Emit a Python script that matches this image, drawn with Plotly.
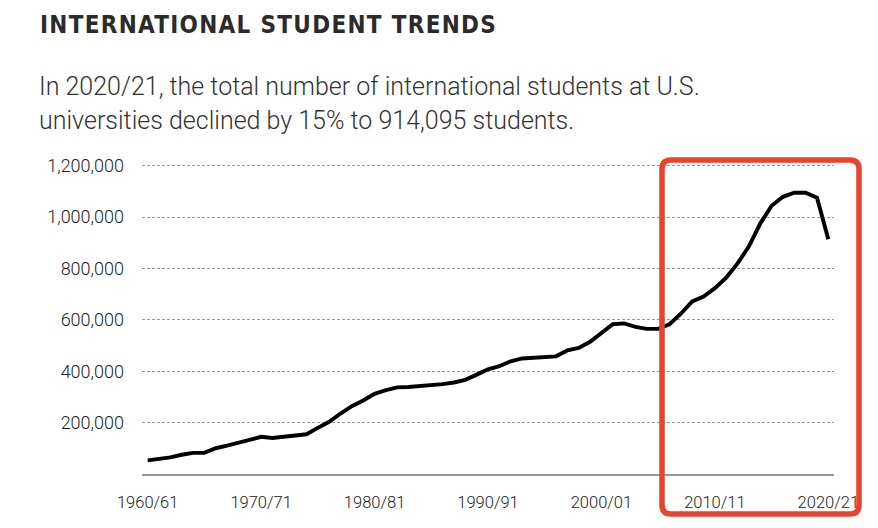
import plotly.graph_objects as go

# ---- data ----
years = list(range(1960, 2021))
students = [
    53107, 58086, 64705, 74814, 82045, 82709, 100262, 110315, 121362, 134959,
    144708, 140126, 146097, 151066, 154580, 179344, 203068, 235509, 263938, 286343,
    311882, 326299, 336985, 338894, 342113, 343777, 349609, 356187, 366354, 386851,
    407529, 419585, 438618, 449749, 452635, 453787, 457984, 481280, 490933, 514723,
    547867, 582996, 586323, 572509, 565039, 564766, 582984, 623805, 671616, 690923,
    723277, 764495, 819644, 886052, 974926, 1043839, 1078822, 1094792, 1095299, 1075496,
    914095,
]
x_tick_vals = [1960, 1970, 1980, 1990, 2000, 2010, 2020]
x_tick_text = ["1960/61", "1970/71", "1980/81", "1990/91", "2000/01", "2010/11", "2020/21"]
y_tick_vals = [200000, 400000, 600000, 800000, 1000000, 1200000]

title_text = "INTERNATIONAL STUDENT TRENDS"
sub_line1 = "In 2020/21, the total number of international students at U.S."
sub_line2 = "universities declined by 15% to 914,095 students."

# ---- layout geometry (pixels) ----
W, H = 878, 528
L, R, T, B = 142, 834, 160, 474
pw, ph = R - L, B - T

def px(xp):
    return (xp - L) / pw

def py(yp):
    return (B - yp) / ph

fig = go.Figure()
fig.add_trace(go.Scatter(
    x=years, y=students, mode="lines",
    line=dict(color="#000000", width=3.9),
    hoverinfo="skip", showlegend=False,
))

# rounded red highlight box
x1, x2, y1, y2, r = 662, 859, 160, 514, 9
def P(xp, yp):
    return f"{px(xp):.5f},{py(yp):.5f}"
path = (
    f"M {P(x1 + r, y1)} L {P(x2 - r, y1)} Q {P(x2, y1)} {P(x2, y1 + r)} "
    f"L {P(x2, y2 - r)} Q {P(x2, y2)} {P(x2 - r, y2)} "
    f"L {P(x1 + r, y2)} Q {P(x1, y2)} {P(x1, y2 - r)} "
    f"L {P(x1, y1 + r)} Q {P(x1, y1)} {P(x1 + r, y1)} Z"
)
fig.add_shape(type="path", xref="paper", yref="paper", path=path,
              line=dict(color="#E8432D", width=5.5), layer="above")

fig.add_annotation(
    xref="paper", yref="paper", x=px(38), y=py(25), xanchor="left", yanchor="middle",
    text=f"<b><span style='letter-spacing:1.3px'>{title_text}</span></b>",
    showarrow=False,
    font=dict(family="DejaVu Sans Condensed, Roboto, sans-serif", size=24, color="#2b2b2b"),
)
fig.add_annotation(
    xref="paper", yref="paper", x=px(37), y=py(87), xanchor="left", yanchor="middle",
    text=sub_line1, showarrow=False,
    font=dict(family="Roboto, sans-serif", size=25, color="#333333", weight=300),
)
fig.add_annotation(
    xref="paper", yref="paper", x=px(37), y=py(121), xanchor="left", yanchor="middle",
    text=sub_line2, showarrow=False,
    font=dict(family="Roboto, sans-serif", size=25, color="#333333", weight=300),
)

fig.update_layout(
    width=W, height=H,
    margin=dict(l=L, r=W - R, t=T, b=H - B, pad=0),
    paper_bgcolor="white", plot_bgcolor="white",
    xaxis=dict(
        range=[1959.5, 2020.5], tickmode="array", tickvals=x_tick_vals, ticktext=x_tick_text,
        showgrid=False, zeroline=False, showline=True, linecolor="#9a9a9a", linewidth=1.5,
        ticks="", ticklabelstandoff=12,
        tickfont=dict(family="Roboto, sans-serif", size=16.5, color="#222222", weight=300),
        fixedrange=True,
    ),
    yaxis=dict(
        range=[0, 1200000 * ph / 308.3], tickmode="array", tickvals=y_tick_vals,
        tickformat=",d", showgrid=True, gridcolor="#9a9a9a", gridwidth=1, griddash="3px,2px",
        zeroline=False, showline=False, ticks="", ticklabelstandoff=17,
        tickfont=dict(family="Roboto, sans-serif", size=18, color="#222222", weight=300),
        fixedrange=True,
    ),
)

fig.write_html("out.html", config={"displayModeBar": False},
               post_script="document.body.style.margin='0';")
